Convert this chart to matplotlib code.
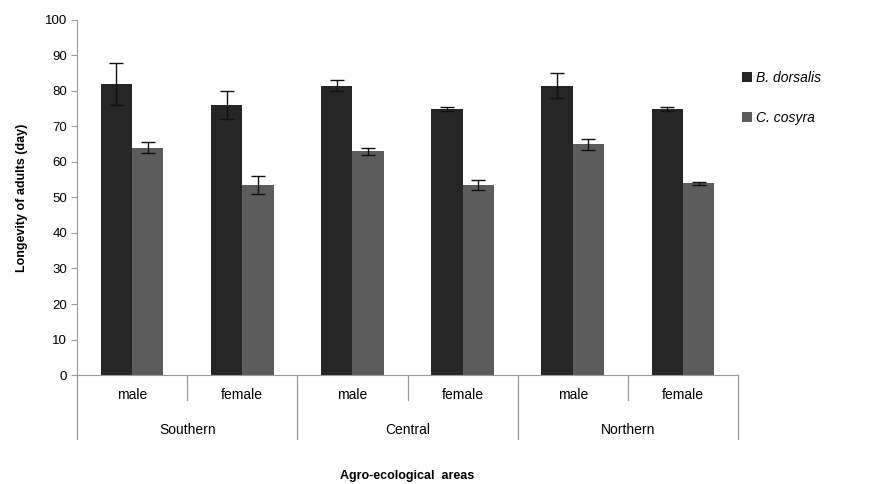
import numpy as np
import matplotlib.pyplot as plt

plt.rcParams['font.family'] = ['Liberation Sans', 'DejaVu Sans']

areas = ["Southern", "Central", "Northern"]
sexes = ["male", "female"]
species = ["B. dorsalis", "C. cosyra"]

# longevity (days) per category: Southern m/f, Central m/f, Northern m/f
b_dorsalis = [82, 76, 81.5, 75, 81.5, 75]
b_dorsalis_err = [6, 4, 1.5, 0.6, 3.5, 0.6]
c_cosyra = [64, 53.5, 63, 53.5, 65, 54]
c_cosyra_err = [1.5, 2.5, 1, 1.3, 1.5, 0.5]

colors = ["#262626", "#5c5c5c"]
grid_col = "#9a9a9a"

fig = plt.figure(figsize=(8.79, 4.84), dpi=100)
ax = fig.add_axes([0.0876, 0.2252, 0.7520, 0.7335])

n = len(b_dorsalis)
x = np.arange(n)
w = 0.285
ax.bar(x - w / 2, b_dorsalis, w, color=colors[0], label=species[0],
       yerr=b_dorsalis_err, error_kw=dict(ecolor="#111111", elinewidth=1, capsize=5, capthick=1))
ax.bar(x + w / 2, c_cosyra, w, color=colors[1], label=species[1],
       yerr=c_cosyra_err, error_kw=dict(ecolor="#111111", elinewidth=1, capsize=5, capthick=1))

ax.set_xlim(-0.5, n - 0.5)
ax.set_ylim(0, 100)
ax.set_yticks(range(0, 101, 10))
ax.tick_params(axis="y", labelsize=9.5, length=4, color=grid_col, pad=3)
ax.set_xticks([])
for s in ["top", "right"]:
    ax.spines[s].set_visible(False)
for s in ["left", "bottom"]:
    ax.spines[s].set_color(grid_col)

# two-level category axis
trans = ax.get_xaxis_transform()
for i in range(n + 1):
    depth = -0.18 if i % 2 == 0 else -0.07
    ax.plot([i - 0.5, i - 0.5], [0, depth], transform=trans, color=grid_col,
            lw=0.9, clip_on=False)
for i in range(n):
    ax.text(x[i], -0.055, sexes[i % 2], transform=trans, ha="center", va="center", fontsize=10)
for j, a in enumerate(areas):
    ax.text(2 * j + 0.5, -0.155, a, transform=trans, ha="center", va="center", fontsize=10)

ax.text(3 - 0.5, -0.285, "Agro-ecological  areas", transform=trans, ha="center",
        va="center", fontsize=9, fontweight="bold")
ax.set_ylabel("Longevity of adults (day)", fontsize=9, fontweight="bold", labelpad=12)

leg = fig.legend(loc="upper left", bbox_to_anchor=(0.83, 0.88), frameon=False,
                 fontsize=10, handlelength=0.7, handleheight=0.7, handletextpad=0.3,
                 labelspacing=1.9)
for t in leg.get_texts():
    t.set_fontstyle("italic")

fig.savefig("out.png", dpi=100)
